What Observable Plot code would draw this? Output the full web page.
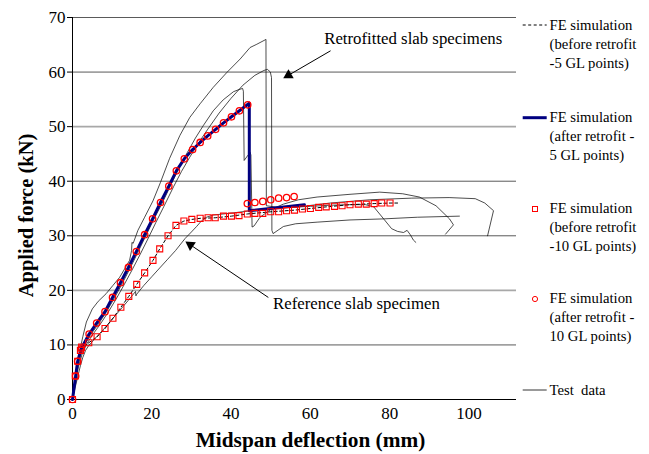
<!DOCTYPE html>
<html><head><meta charset="utf-8">
<script src="https://cdn.jsdelivr.net/npm/d3@7"></script>
<script src="https://cdn.jsdelivr.net/npm/@observablehq/plot@0.6"></script>
<style>
body{margin:0;background:#fff;}
#wrap{position:relative;width:649px;height:454px;font-family:"Liberation Serif","Times New Roman",serif;}
</style></head><body><div id="wrap"></div>
<script>
// ---- axis ticks
const xTicks = [0,20,40,60,80,100];
const yTicks = [0,10,20,30,40,50,60,70];

// ---- FE simulation (before retrofit - 5 GL points), dashed
const feBefore5X = [0,0.7,1.3,2.0,2.8,4.1,6.2,8.2,10.2,12.2,14.2,16.2,18.2,20.3,22.0,24.1,26.1,28.1,30.1,32.2,36.0,40.1,44.1,50.0,56.0,60.0,64.0,70.0,76.1,80.1,82.0];
const feBefore5Y = [0,4.3,7.0,9.0,9.6,10.4,11.5,13.0,14.9,16.9,18.9,21.1,23.2,25.5,27.6,30.0,31.9,32.7,33.0,33.2,33.3,33.6,34.0,34.4,34.7,35.0,35.3,35.7,35.9,36.0,36.0];

// ---- FE simulation (after retrofit - 5 GL points), navy
const feAfter5X = [0,0.8,1.3,2.2,4.2,6.1,8.2,10.1,12.1,14.1,16.1,18.2,20.2,22.2,24.3,26.2,28.2,30.3,32.2,34.1,36.1,38.1,40.1,42.1,44.6,44.6,58.5];
const feAfter5Y = [0,4.3,7.0,9.3,12.0,14.0,16.1,18.7,21.4,24.2,27.1,30.2,33.1,36.1,39.1,41.9,44.1,45.8,47.1,48.3,49.5,50.7,51.8,52.9,54.3,34.6,35.7];

// ---- FE simulation (before retrofit - 10 GL points), squares
const feBefore10X = [0,0.7,1.3,2.0,2.3,4.1,6.2,8.2,10.2,12.2,14.2,16.2,18.2,20.3,22.0,24.1,26.1,28.1,30.1,32.2,34.2,36.0,38.1,40.1,42.0,44.1,46.0,48.0,50.0,52.0,54.0,56.0,58.0,60.0,62.1,64.0,66.1,68.0,70.0,72.1,74.1,76.1,78.0,80.1];
const feBefore10Y = [0,4.3,7.0,9.0,9.6,10.4,11.5,13.0,14.9,16.9,18.9,21.1,23.2,25.5,27.6,30.0,31.9,32.7,33.0,33.2,33.3,33.3,33.6,33.6,33.7,34.0,34.1,34.1,34.4,34.4,34.6,34.7,34.9,35.0,35.2,35.3,35.4,35.5,35.7,35.8,35.8,35.9,36.0,36.0];

// ---- FE simulation (after retrofit - 10 GL points), circles
const feAfter10X = [0,0.8,1.3,2.2,4.2,6.1,8.2,10.1,12.1,14.1,16.1,18.2,20.2,22.2,24.3,26.2,28.2,30.3,32.2,34.1,36.1,38.1,40.1,42.1,44.2,44.1,46.0,48.0,50.0,52.0,54.0,55.9];
const feAfter10Y = [0,4.3,7.0,9.3,12.0,14.0,16.1,18.7,21.4,24.2,27.1,30.2,33.1,36.1,39.1,41.9,44.1,45.8,47.1,48.3,49.5,50.7,51.8,52.9,54.0,35.9,36.1,36.3,36.6,36.9,37.0,37.2];

// ---- Test data: reference slab specimen
const testRefX = [0,0.6,1.3,2.0,2.6,3.3,4.1,6,8,10,12,14,15.9,16.0,16.2,18,20,22,24,26,28.4,30,31.3,32.5,33.8,35.5,40.6,45,50,55,60,65,70,73.9,76,78.6,80.5,82.0,83.5,84.4,85.2,86.0,86.6];
const testRefY = [0,2.0,4.1,6.2,7.7,9.0,9.9,11.4,13.0,14.7,16.4,18.1,19.8,19.0,19.3,20.9,22.5,24.1,25.7,27.3,29.5,30.7,31.7,32.7,33.4,33.8,34.2,34.6,35.0,35.2,35.4,35.6,35.7,35.7,35.3,33.0,31.3,30.8,30.6,31.0,30.2,29.2,28.8];

// ---- Test data: retrofitted specimens (peaks ~57, ~60, ~66 kN)
const testR57X = [0,0.6,1.3,2.2,3.2,4.5,6.5,8.5,10.5,12.5,14.5,16.5,18.5,20.5,22.5,25.0,27.0,29.0,31.0,33.0,35.5,38.0,40.6,42.0,42.9,43.1,43.3,44.8,45.0,45.3,45.8,47.3,50,53.2,57,61.7,70,77.5,83.3,87.5,91.7,95.1,96.1,94.1];
const testR57Y = [0,3,6,8.5,10.2,11.8,13.8,16.0,18.5,21.2,24.0,27.0,30.0,33.0,35.8,39.6,42.6,45.3,47.9,50.2,52.9,54.9,56.4,56.8,57.0,56.5,43.8,45.3,44.8,31.6,31.8,33.4,34.8,35.8,36.6,37.1,37.6,38.0,37.7,37.1,35.5,33.1,32.0,30.3];

const testR60X = [0,0.7,1.5,2.5,3.6,5,7,9,11,13,15,17,19,21,23,25.5,27.5,29.5,31.5,34,37,40,43,46,48.3,49.2,49.6,49.9,50.2,50.3,50.6,53.2,56.3,61.7,70,78.6,87,97.6];
const testR60Y = [0,3,6,8.5,10.2,11.8,13.8,16,18.4,21,23.7,26.5,29.4,32.4,35.3,39,41.8,44.3,46.7,49.4,52.5,55.2,57.6,59.4,60.3,60.5,60.2,60.0,59.0,31.0,30.4,31.7,32.2,32.5,32.9,33.1,33.4,33.6];

const testR66X = [0,0.5,1.0,1.5,2.0,2.6,3.5,5.0,6.5,8.5,10.2,11.9,13.2,14.4,14.9,15.0,15.3,16.5,18.2,20.3,22.2,24.5,27.1,29.6,32.2,35.5,38.9,42.3,44.8,46.5,48.6,48.8,48.9,52,57,65,75,85.6,95,101.6,104,106.2,104.7];
const testR66Y = [0,2.5,5,7.5,9.5,11.5,14.2,16.6,18.0,19.4,20.9,22.4,24.0,25.5,27.3,28.8,28.6,31.0,33.4,36.4,39.8,44.2,48.4,51.7,54.2,57.2,59.9,62.4,64.5,65.1,65.9,66.0,35.5,35.2,35.3,36.0,36.6,36.9,37.0,36.8,36.0,34.6,30.0];

// ---- annotations (text, arrow start and tip in data units)
const annoText  = ["Retrofitted slab specimens", "Reference slab specimen"];
const annoTextX = [63.5, 50.6];
const annoTextY = [66.1, 17.6];
const arrowX1 = [65.1, 49.4], arrowY1 = [63.9, 18.7];
const arrowX2 = [53.5, 28.8], arrowY2 = [59.0, 28.8];

// ---- legend
const legendLabels = [
  ["FE simulation","(before retrofit","-5 GL points)"],
  ["FE simulation","(after retrofit -","5 GL points)"],
  ["FE simulation","(before retrofit","-10 GL points)"],
  ["FE simulation","(after retrofit -","10 GL points)"],
  ["Test  data"]
];

// ---------------- layout
const W = 649, H = 454, ML = 72, MR = 133, MT = 17, MB = 55;
const XMAX = 112, YMAX = 70;
const kx = (W - ML - MR) / XMAX, ky = (H - MT - MB) / YMAX;

const pts = (xs, ys) => xs.map((x, i) => ({x, y: ys[i]}));
const tests = [pts(testRefX,testRefY), pts(testR57X,testR57Y), pts(testR60X,testR60Y), pts(testR66X,testR66Y)];

// arrows: line to head centre, triangle head rotated along the line
const arrows = annoText.map((t, i) => {
  const vx = (arrowX2[i] - arrowX1[i]) * kx, vy = -(arrowY2[i] - arrowY1[i]) * ky;
  const len = Math.hypot(vx, vy), ux = vx / len, uy = vy / len;
  const back = 4.5;
  return {
    x1: arrowX1[i], y1: arrowY1[i],
    hx: arrowX2[i] - back * ux / kx, hy: arrowY2[i] + back * uy / ky,
    angle: Math.atan2(vx, -vy) * 180 / Math.PI
  };
});
const annos = annoText.map((t, i) => ({t, x: annoTextX[i], y: annoTextY[i]}));

const serif = '"Liberation Serif", "Times New Roman", serif';
// the source image renders every third gridline softer (resampling)
const softGrid = d => d % 30 === 20;

const plot = Plot.plot({
  width: W, height: H,
  marginLeft: ML, marginRight: MR, marginTop: MT, marginBottom: MB,
  style: {fontFamily: serif, fontSize: "17px", color: "#000", background: "#fff", overflow: "visible"},
  x: {domain: [0, XMAX]},
  y: {domain: [0, YMAX]},
  marks: [
    Plot.ruleY(yTicks.filter(d => d > 0 && !softGrid(d)), {stroke: "#5a5a5a", strokeWidth: 1}),
    Plot.ruleY(yTicks.filter(d => d > 0 && softGrid(d)), {stroke: "#a8a8a8", strokeWidth: 1.6}),
    Plot.axisX({ticks: xTicks, tickSize: 0, tickPadding: 7, label: null, fontSize: 17}),
    Plot.axisY({ticks: yTicks, tickSize: 5, tickPadding: 2, label: null, fontSize: 17, stroke: "#000"}),
    Plot.ruleY([0], {stroke: "#000", strokeWidth: 1}),
    Plot.ruleX([0], {stroke: "#000", strokeWidth: 1}),
    ...tests.map(d => Plot.line(d, {x: "x", y: "y", stroke: "#000", strokeWidth: 0.7})),
    Plot.line(pts(feBefore5X, feBefore5Y), {x: "x", y: "y", stroke: "#000", strokeWidth: 1, strokeDasharray: "3,2.5"}),
    Plot.line(pts(feAfter5X, feAfter5Y), {x: "x", y: "y", stroke: "#000080", strokeWidth: 3}),
    Plot.dot(pts(feBefore10X, feBefore10Y), {x: "x", y: "y", symbol: "square", r: 3.4, stroke: "#ff0000", fill: "none", strokeWidth: 1.1}),
    Plot.dot(pts(feAfter10X, feAfter10Y), {x: "x", y: "y", symbol: "circle", r: 3.2, stroke: "#ff0000", fill: "none", strokeWidth: 1.3}),
    Plot.link(arrows, {x1: "x1", y1: "y1", x2: "hx", y2: "hy", stroke: "#000", strokeWidth: 1}),
    Plot.dot(arrows, {x: "hx", y: "hy", symbol: "triangle", r: 3.9, fill: "#000", stroke: "none", rotate: "angle"}),
    Plot.text(annos, {x: "x", y: "y", text: "t", textAnchor: "start", lineAnchor: "middle", fontSize: 16.8, fill: "#000"}),
    Plot.text(["Midspan deflection (mm)"], {frameAnchor: "bottom", textAnchor: "middle", lineAnchor: "middle", dx: 16, dy: 41, fontWeight: "bold", fontSize: 21.3, fill: "#000"}),
    Plot.text(["Applied force (kN)"], {frameAnchor: "left", textAnchor: "middle", lineAnchor: "middle", dx: -46.5, dy: 7, rotate: -90, fontWeight: "bold", fontSize: 20.5, fill: "#000"})
  ]
});
document.getElementById("wrap").appendChild(plot);

// ---------------- legend overlay
const leg = d3.select("#wrap").append("svg")
  .attr("width", W).attr("height", H)
  .style("position", "absolute").style("left", "0px").style("top", "0px")
  .style("font-family", serif).style("font-size", "14.7px");
const symY = [25, 117.7, 209, 299, 390];
const baseY = [30, 121.7, 213.3, 303.3, 395];
const lx1 = 522.7, lx2 = 546.7, tx = 549.5, lh = 19;
leg.append("line").attr("x1", lx1).attr("x2", lx2).attr("y1", symY[0]).attr("y2", symY[0]).attr("stroke", "#000").attr("stroke-dasharray", "3,2.5");
leg.append("line").attr("x1", lx1).attr("x2", lx2).attr("y1", symY[1]).attr("y2", symY[1]).attr("stroke", "#000080").attr("stroke-width", 3);
leg.append("rect").attr("x", 535 - 2.5).attr("y", symY[2] - 2.5).attr("width", 5).attr("height", 5).attr("fill", "none").attr("stroke", "#ff0000");
leg.append("circle").attr("cx", 535).attr("cy", symY[3]).attr("r", 2.6).attr("fill", "none").attr("stroke", "#ff0000");
leg.append("line").attr("x1", lx1).attr("x2", lx2).attr("y1", symY[4]).attr("y2", symY[4]).attr("stroke", "#000").attr("stroke-width", 0.8);
legendLabels.forEach((lines, i) => {
  lines.forEach((s, j) => {
    leg.append("text").attr("x", tx).attr("y", baseY[i] + j * lh).attr("fill", "#000")
      .style("white-space", "pre").attr("xml:space", "preserve").text(s);
  });
});
</script>
</body></html>
